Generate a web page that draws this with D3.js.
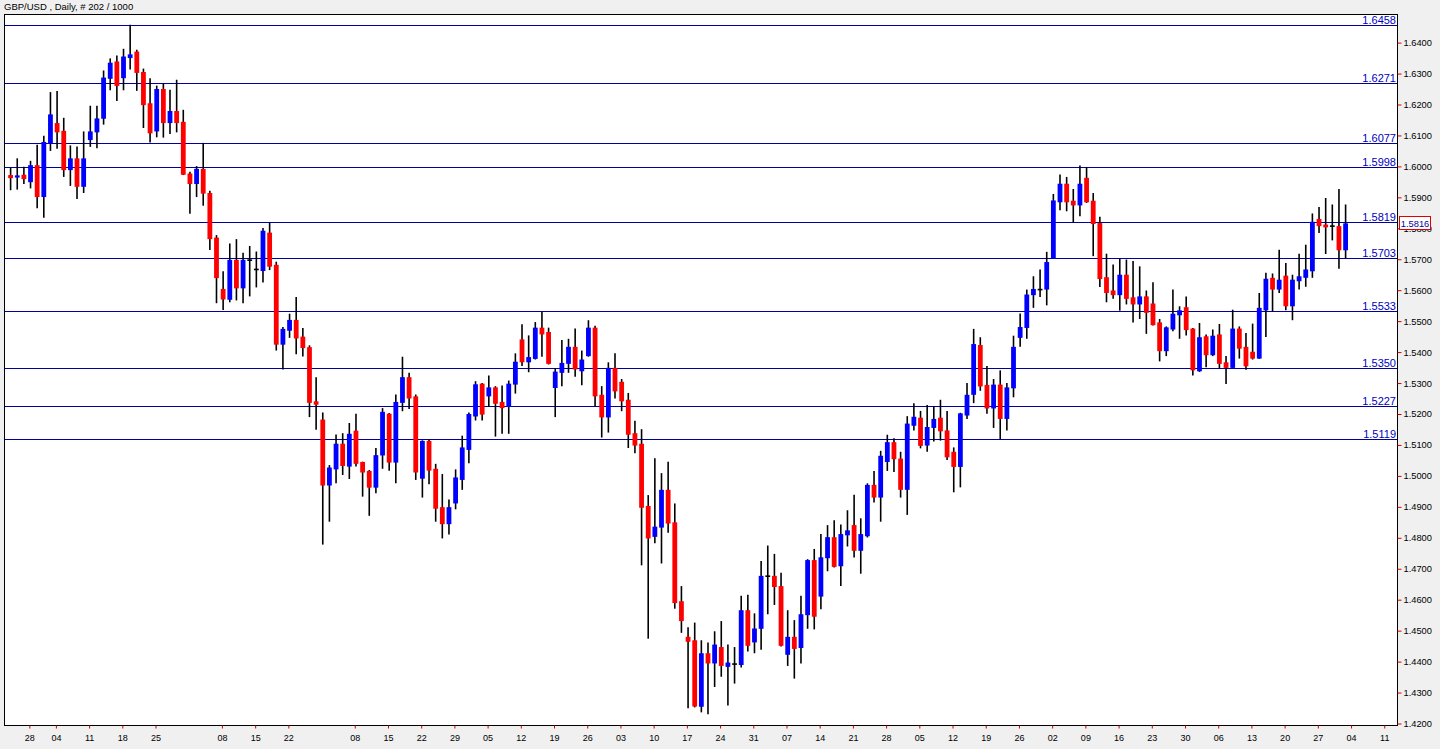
<!DOCTYPE html>
<html><head><meta charset="utf-8">
<script src="https://cdn.jsdelivr.net/npm/d3@7"></script>
<style>
html,body{margin:0;padding:0;background:#f0f0f0;}
svg{display:block;}
text{font-family:"Liberation Sans",Arial,sans-serif;}
</style>
</head><body>
<svg id="chart" width="1440" height="749"></svg>
<script>
// ---------- data ----------
const title = "GBP/USD , Daily, # 202 / 1000";
const open = [1.5972,1.5964,1.5973,1.5949,1.6004,1.5901,1.6074,1.6140,1.6115,1.5988,
1.6026,1.5934,1.6085,1.6110,1.6154,1.6283,1.6339,1.6285,1.6350,1.6371,
1.6305,1.6204,1.6113,1.6250,1.6140,1.6179,1.6144,1.5977,1.5943,1.5992,
1.5914,1.5770,1.5604,1.5569,1.5698,1.5606,1.5697,1.5667,1.5662,1.5786,
1.5682,1.5424,1.5469,1.5504,1.5450,1.5416,1.5241,1.5182,1.4969,1.5021,
1.5104,1.5030,1.5146,1.5045,1.5016,1.4962,1.5066,1.5201,1.5043,1.5236,
1.5319,1.5257,1.4991,1.5113,1.5023,1.4899,1.4844,1.4911,1.4987,1.5084,
1.5192,1.5298,1.5257,1.5286,1.5239,1.5223,1.5295,1.5441,1.5367,1.5378,
1.5479,1.5465,1.5284,1.5333,1.5362,1.5417,1.5338,1.5387,1.5479,1.5262,
1.5189,1.5349,1.5304,1.5246,1.5138,1.5104,1.4903,1.4803,1.4833,1.4955,
1.4850,1.4595,1.4480,1.4469,1.4254,1.4427,1.4394,1.4447,1.4383,1.4392,
1.4389,1.4566,1.4462,1.4506,1.4676,1.4677,1.4644,1.4422,1.4480,1.4444,
1.4550,1.4728,1.4610,1.4734,1.4802,1.4708,1.4808,1.4841,1.4758,1.4805,
1.4971,1.4930,1.5045,1.5109,1.5056,1.4955,1.5162,1.5188,1.5098,1.5155,
1.5188,1.5147,1.5078,1.5029,1.5195,1.5262,1.5423,1.5294,1.5218,1.5295,
1.5184,1.5283,1.5446,1.5478,1.5584,1.5602,1.5602,1.5702,1.5884,1.5944,
1.5889,1.5874,1.5963,1.5889,1.5817,1.5642,1.5599,1.5584,1.5650,1.5577,
1.5554,1.5580,1.5557,1.5496,1.5403,1.5473,1.5519,1.5545,1.5476,1.5338,
1.5451,1.5390,1.5457,1.5367,1.5349,1.5476,1.5417,1.5401,1.5379,1.5535,
1.5640,1.5602,1.5647,1.5548,1.5629,1.5640,1.5661,1.5830,1.5812,1.5807,
1.5807,1.5729];
const high = [1.5996,1.6026,1.5999,1.6018,1.6070,1.6099,1.6240,1.6244,1.6157,1.6068,
1.6064,1.6113,1.6196,1.6196,1.6310,1.6349,1.6358,1.6380,1.6458,1.6377,
1.6316,1.6285,1.6261,1.6269,1.6248,1.6280,1.6183,1.5983,1.6001,1.6076,
1.5921,1.5778,1.5661,1.5751,1.5765,1.5721,1.5743,1.5725,1.5801,1.5818,
1.5692,1.5481,1.5524,1.5578,1.5478,1.5422,1.5319,1.5205,1.5035,1.5134,
1.5138,1.5171,1.5201,1.5046,1.5019,1.5090,1.5219,1.5203,1.5263,1.5385,
1.5333,1.5263,1.5115,1.5117,1.5039,1.5006,1.4924,1.5021,1.5130,1.5205,
1.5306,1.5300,1.5324,1.5290,1.5292,1.5308,1.5396,1.5490,1.5454,1.5497,
1.5530,1.5479,1.5348,1.5439,1.5443,1.5476,1.5405,1.5503,1.5485,1.5290,
1.5367,1.5396,1.5313,1.5268,1.5178,1.5151,1.4938,1.5057,1.5009,1.5046,
1.4911,1.4644,1.4511,1.4526,1.4469,1.4462,1.4498,1.4531,1.4455,1.4447,
1.4613,1.4616,1.4556,1.4725,1.4775,1.4748,1.4687,1.4566,1.4534,1.4613,
1.4731,1.4764,1.4812,1.4841,1.4857,1.4843,1.4889,1.4939,1.4863,1.4976,
1.5016,1.5081,1.5133,1.5122,1.5078,1.5193,1.5235,1.5210,1.5229,1.5224,
1.5246,1.5210,1.5092,1.5204,1.5300,1.5475,1.5448,1.5355,1.5313,1.5341,
1.5300,1.5453,1.5525,1.5602,1.5645,1.5667,1.5724,1.5911,1.5974,1.5966,
1.5927,1.6003,1.5998,1.5914,1.5837,1.5718,1.5683,1.5702,1.5699,1.5694,
1.5677,1.5599,1.5626,1.5507,1.5483,1.5602,1.5548,1.5580,1.5478,1.5494,
1.5457,1.5473,1.5491,1.5387,1.5537,1.5483,1.5462,1.5492,1.5591,1.5656,
1.5654,1.5731,1.5688,1.5650,1.5718,1.5747,1.5848,1.5869,1.5898,1.5877,
1.5927,1.5877];
const low = [1.5923,1.5925,1.5943,1.5929,1.5865,1.5834,1.6050,1.6057,1.5966,1.5937,
1.5895,1.5914,1.6063,1.6059,1.6135,1.6246,1.6211,1.6246,1.6313,1.6244,
1.6124,1.6077,1.6094,1.6093,1.6105,1.6110,1.5972,1.5847,1.5901,1.5873,
1.5730,1.5558,1.5536,1.5561,1.5567,1.5558,1.5580,1.5609,1.5625,1.5665,
1.5405,1.5344,1.5446,1.5393,1.5386,1.5190,1.5149,1.4778,1.4852,1.4976,
1.5003,1.4990,1.5030,1.4933,1.4871,1.4944,1.5023,1.5017,1.4976,1.5209,
1.5216,1.4987,1.4930,1.4973,1.4852,1.4798,1.4811,1.4892,1.4955,1.5041,
1.5179,1.5179,1.5223,1.5127,1.5136,1.5136,1.5266,1.5355,1.5335,1.5376,
1.5385,1.5360,1.5190,1.5290,1.5333,1.5320,1.5293,1.5385,1.5225,1.5124,
1.5140,1.5250,1.5209,1.5090,1.5073,1.4711,1.4474,1.4782,1.4717,1.4816,
1.4571,1.4493,1.4249,1.4252,1.4236,1.4230,1.4318,1.4351,1.4258,1.4329,
1.4381,1.4433,1.4427,1.4438,1.4553,1.4583,1.4449,1.4386,1.4345,1.4394,
1.4506,1.4504,1.4569,1.4692,1.4704,1.4644,1.4772,1.4736,1.4684,1.4801,
1.4914,1.4852,1.5016,1.5013,1.4930,1.4874,1.5147,1.5089,1.5078,1.5111,
1.5114,1.5051,1.4947,1.4963,1.5184,1.5235,1.5275,1.5201,1.5155,1.5119,
1.5147,1.5254,1.5417,1.5443,1.5543,1.5578,1.5551,1.5701,1.5858,1.5855,
1.5819,1.5839,1.5882,1.5710,1.5610,1.5561,1.5572,1.5534,1.5554,1.5496,
1.5507,1.5459,1.5486,1.5370,1.5387,1.5467,1.5443,1.5454,1.5324,1.5336,
1.5351,1.5387,1.5347,1.5297,1.5349,1.5379,1.5343,1.5376,1.5378,1.5449,
1.5532,1.5591,1.5535,1.5503,1.5602,1.5611,1.5640,1.5785,1.5717,1.5761,
1.5669,1.5704];
const close = [1.5962,1.5971,1.5959,1.6004,1.5901,1.6079,1.6168,1.6110,1.5988,1.6026,
1.5934,1.6026,1.6113,1.6155,1.6287,1.6335,1.6260,1.6355,1.6362,1.6302,
1.6198,1.6107,1.6250,1.6140,1.6179,1.6140,1.5973,1.5943,1.5992,1.5912,
1.5765,1.5639,1.5570,1.5698,1.5606,1.5698,1.5697,1.5667,1.5792,1.5676,
1.5424,1.5475,1.5504,1.5444,1.5413,1.5236,1.5230,1.4969,1.5027,1.5104,
1.5032,1.5136,1.5039,1.5011,1.4962,1.5067,1.5207,1.5043,1.5239,1.5319,
1.5250,1.5011,1.5113,1.5017,1.4894,1.4844,1.4899,1.4995,1.5092,1.5200,
1.5296,1.5198,1.5286,1.5233,1.5219,1.5298,1.5369,1.5367,1.5384,1.5479,
1.5457,1.5362,1.5337,1.5365,1.5417,1.5344,1.5376,1.5479,1.5257,1.5189,
1.5349,1.5273,1.5241,1.5133,1.5098,1.4897,1.4798,1.4836,1.4955,1.4846,
1.4589,1.4531,1.4464,1.4255,1.4427,1.4394,1.4455,1.4386,1.4397,1.4392,
1.4566,1.4451,1.4507,1.4677,1.4676,1.4641,1.4451,1.4480,1.4441,1.4553,
1.4728,1.4545,1.4737,1.4802,1.4706,1.4812,1.4824,1.4758,1.4812,1.4971,
1.4930,1.5065,1.5109,1.5054,1.4955,1.5169,1.5191,1.5097,1.5158,1.5184,
1.5144,1.5060,1.5029,1.5202,1.5262,1.5426,1.5289,1.5218,1.5295,1.5184,
1.5286,1.5417,1.5481,1.5586,1.5604,1.5602,1.5691,1.5890,1.5944,1.5884,
1.5874,1.5944,1.5884,1.5814,1.5636,1.5591,1.5584,1.5650,1.5572,1.5554,
1.5580,1.5527,1.5487,1.5403,1.5480,1.5524,1.5535,1.5471,1.5341,1.5448,
1.5390,1.5453,1.5362,1.5349,1.5476,1.5411,1.5354,1.5379,1.5543,1.5637,
1.5602,1.5634,1.5548,1.5634,1.5645,1.5667,1.5821,1.5807,1.5803,1.5807,
1.5729,1.5816];
const levels = [1.6458,1.6271,1.6077,1.5998,1.5819,1.5703,1.5533,1.5350,1.5227,1.5119];
const priceTicks = [1.42,1.43,1.44,1.45,1.46,1.47,1.48,1.49,1.50,1.51,1.52,1.53,1.54,1.55,1.56,1.57,1.58,1.59,1.60,1.61,1.62,1.63,1.64];
const dateTickIndex = [3,7,12,17,22,32,37,42,52,57,62,67,72,77,82,87,92,97,102,107,112,117,122,127,132,137,142,147,152,157,162,167,172,177,182,187,192,197,202,207];
const dateTickLabels = ["28","04","11","18","25","08","15","22","08","15","22","29","05","12","19","26","03","10","17","24","31","07","14","21","28","05","12","19","26","02","09","16","23","30","06","13","20","27","04","11"];
const lastPrice = 1.5816;

// ---------- layout ----------
const plot = {left:4.5, top:14.5, right:1397.5, bottom:725.5};
const svg = d3.select("#chart");
const x = d3.scaleLinear().domain([0, 201]).range([10.6, 1345.6]);
const y = d3.scaleLinear().domain([1.42, 1.64]).range([723.5, 42.6]);

// title
svg.append("text").attr("x", 4).attr("y", 10).attr("font-size", 9.5).attr("fill", "#000").text(title);

// plot background
svg.append("rect").attr("x", plot.left).attr("y", plot.top)
  .attr("width", plot.right - plot.left).attr("height", plot.bottom - plot.top)
  .attr("fill", "#fff");

// level lines
const lv = svg.append("g");
lv.selectAll("line").data(levels).join("line")
  .attr("x1", plot.left).attr("x2", plot.right)
  .attr("y1", d => Math.round(y(d)) + 0.5).attr("y2", d => Math.round(y(d)) + 0.5)
  .attr("stroke", "#0000a0").attr("stroke-width", 1);
lv.selectAll("text").data(levels).join("text")
  .attr("x", plot.right - 1.5).attr("y", d => Math.round(y(d)) - 1)
  .attr("text-anchor", "end").attr("font-size", 11).attr("fill", "#0000c0")
  .text(d => d.toFixed(4));

// candles
const idx = d3.range(open.length);
const cg = svg.append("g");
cg.selectAll("line.wick").data(idx).join("line").attr("class", "wick")
  .attr("x1", i => x(i)).attr("x2", i => x(i))
  .attr("y1", i => y(high[i])).attr("y2", i => y(low[i]))
  .attr("stroke", "#000").attr("stroke-width", 1.6);
const bw = 4.8;
cg.selectAll("rect.body").data(idx).join("rect").attr("class", "body")
  .attr("x", i => x(i) - bw / 2).attr("width", bw)
  .attr("y", i => close[i] === open[i] ? y(close[i]) - 0.8 : Math.min(y(open[i]), y(close[i])))
  .attr("height", i => close[i] === open[i] ? 1.6 : Math.max(1.2, Math.abs(y(open[i]) - y(close[i]))))
  .attr("fill", i => close[i] > open[i] ? "#0000ff" : (close[i] < open[i] ? "#ff0000" : "#000"));

// frame
svg.append("rect").attr("x", plot.left).attr("y", plot.top)
  .attr("width", plot.right - plot.left).attr("height", plot.bottom - plot.top)
  .attr("fill", "none").attr("stroke", "#000").attr("stroke-width", 1);

// right price axis
const ay = svg.append("g").attr("transform", `translate(${plot.right},0)`)
  .call(d3.axisRight(y).tickValues(priceTicks).tickFormat(d3.format(".4f")).tickSize(4).tickPadding(2));
ay.select(".domain").remove();
ay.selectAll(".tick line").attr("stroke", "#d00000");
ay.selectAll(".tick text").attr("font-size", 9.3).attr("fill", "#000")
  .attr("font-family", "Liberation Sans, Arial, sans-serif");

// bottom date axis
const ax = svg.append("g").attr("transform", `translate(-1.2,${plot.bottom})`)
  .call(d3.axisBottom(x).tickValues(dateTickIndex).tickFormat((d, i) => dateTickLabels[i]).tickSize(3).tickPadding(6));
ax.select(".domain").remove();
ax.selectAll(".tick line").attr("stroke", "#d00000");
ax.selectAll(".tick text").attr("font-size", 9).attr("fill", "#000")
  .attr("font-family", "Liberation Sans, Arial, sans-serif");

// current price label
const yl = y(lastPrice);
svg.append("rect").attr("x", 1399.5).attr("y", Math.round(yl) - 6.5).attr("width", 31).attr("height", 13)
  .attr("fill", "#fff").attr("stroke", "#e00000").attr("stroke-width", 1);
svg.append("text").attr("x", 1415).attr("y", Math.round(yl) + 3.5).attr("text-anchor", "middle")
  .attr("font-size", 9.3).attr("fill", "#0000a0").text(lastPrice.toFixed(4));
</script>
</body></html>
